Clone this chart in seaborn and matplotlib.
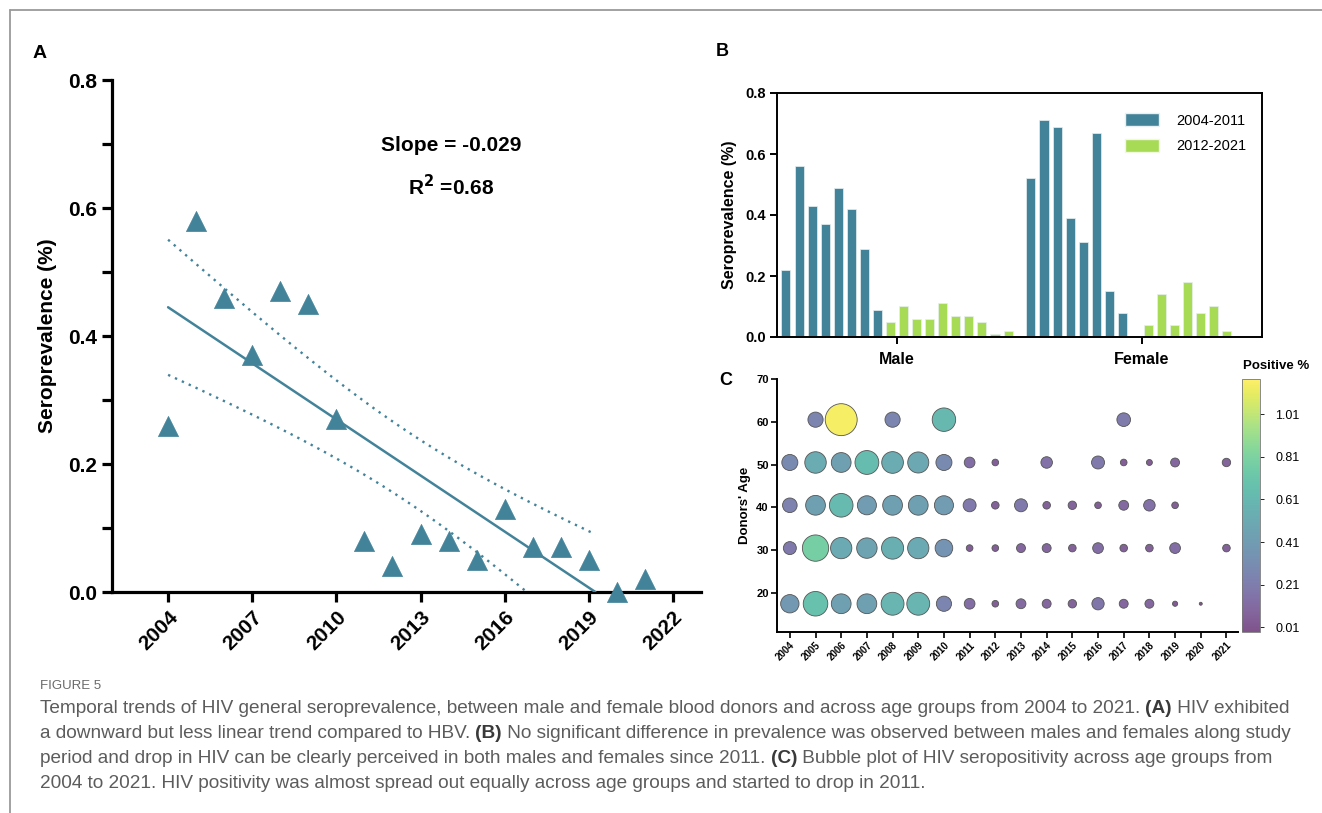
import numpy as np
import pandas as pd
import matplotlib
matplotlib.use("Agg")
import matplotlib.pyplot as plt
import seaborn as sns
from matplotlib.colors import ListedColormap, Normalize
from matplotlib.cm import ScalarMappable
from matplotlib.lines import Line2D
from matplotlib.patches import Patch
from matplotlib.ticker import MultipleLocator, FormatStrFormatter

# ---------------- data ----------------
years = list(range(2004, 2022))
# Panel A: general HIV seroprevalence (%)
overall = [0.26, 0.58, 0.46, 0.37, 0.47, 0.45, 0.27, 0.08, 0.04, 0.09,
           0.08, 0.05, 0.13, 0.07, 0.07, 0.05, 0.00, 0.02]
# Panel B: by sex, one bar per year 2004..2021
sexes = ["Male", "Female"]
male = [0.22, 0.56, 0.43, 0.37, 0.49, 0.42, 0.29, 0.09,
        0.05, 0.10, 0.06, 0.06, 0.11, 0.07, 0.07, 0.05, 0.01, 0.02]
female = [0.52, 0.71, 0.69, 0.39, 0.31, 0.67, 0.15, 0.08,
          0.00, 0.04, 0.14, 0.04, 0.18, 0.08, 0.10, 0.02, 0.00, 0.00]
period_labels = ["2004-2011", "2012-2021"]
# Panel C: positive % per age group (NaN = no bubble)
age_rows = [17.5, 30.5, 40.5, 50.5, 60.5]
nan = np.nan
pos_age17 = [0.38, 0.68, 0.44, 0.44, 0.59, 0.59, 0.26, 0.13, 0.05, 0.11,
             0.09, 0.08, 0.17, 0.09, 0.09, 0.03, 0.01, nan]
pos_age30 = [0.19, 0.78, 0.51, 0.47, 0.55, 0.51, 0.35, 0.05, 0.05, 0.09,
             0.09, 0.065, 0.13, 0.065, 0.065, 0.13, nan, 0.065]
pos_age40 = [0.24, 0.44, 0.63, 0.41, 0.44, 0.44, 0.41, 0.19, 0.065, 0.19,
             0.065, 0.08, 0.05, 0.11, 0.15, 0.05, nan, nan]
pos_age50 = [0.29, 0.52, 0.44, 0.64, 0.53, 0.50, 0.29, 0.13, 0.05, nan,
             0.15, nan, 0.19, 0.05, 0.04, 0.09, nan, 0.08]
pos_age60 = [nan, 0.26, 1.15, nan, 0.26, nan, 0.62, nan, nan, nan,
             nan, nan, nan, 0.21, nan, nan, nan, nan]
cbar_ticks = [0.01, 0.21, 0.41, 0.61, 0.81, 1.01]

# ---------------- style ----------------
sns.set_style("ticks")
plt.rcParams["font.family"] = ["Liberation Sans", "DejaVu Sans"]
for k in ["text.color", "axes.labelcolor", "xtick.color", "ytick.color", "axes.edgecolor"]:
    plt.rcParams[k] = "black"
BLUE = "#43839a"
GREEN = "#a7db55"
W, H = 1322, 813


def fx(px):
    return px / W


def fy(py):
    return 1 - py / H


fig = plt.figure(figsize=(W / 100, H / 100), dpi=100)
fig.patch.set_facecolor("white")

# frame lines (top + left)
fig.add_artist(Line2D([fx(10), 1], [fy(10), fy(10)], color="#9a9a9a", lw=1.3))
fig.add_artist(Line2D([fx(10), fx(10)], [fy(10), 0], color="#9a9a9a", lw=1.3))

# ---------------- Panel A ----------------
axA = fig.add_axes([fx(112), fy(592), fx(701) - fx(112), fy(80) - fy(592)])
dfA = pd.DataFrame({"year": years, "value": overall})
sns.scatterplot(data=dfA, x="year", y="value", marker="^", s=210, color=BLUE,
                edgecolor=BLUE, linewidth=0.5, ax=axA, zorder=4,
                clip_on=False, legend=False)
yr = np.array(years, dtype=float)
val = np.array(overall)
slope, intercept = np.polyfit(yr, val, 1)
n = len(yr)
xm = yr.mean()
sxx = ((yr - xm) ** 2).sum()
resid = val - (slope * yr + intercept)
s_err = np.sqrt((resid ** 2).sum() / (n - 2))
t_crit = 2.12
x_end = -intercept / slope
xs = np.linspace(yr[0], x_end, 400)
fit = slope * xs + intercept
half = t_crit * s_err * np.sqrt(1 / n + (xs - xm) ** 2 / sxx)
axA.plot(xs, fit, color=BLUE, lw=1.8, zorder=3)
axA.plot(xs, fit + half, color=BLUE, lw=1.7, ls=(0, (1, 2.2)), zorder=3)
lo = fit - half
lo = np.where(lo >= 0, lo, np.nan)
axA.plot(xs, lo, color=BLUE, lw=1.7, ls=(0, (1, 2.2)), zorder=3)

axA.set_xlim(2002, 2023)
axA.set_ylim(0, 0.8)
axA.set_xticks(range(2004, 2023, 3))
axA.yaxis.set_major_locator(MultipleLocator(0.2))
axA.yaxis.set_minor_locator(MultipleLocator(0.1))
axA.yaxis.set_major_formatter(FormatStrFormatter("%.1f"))
for s in ["top", "right"]:
    axA.spines[s].set_visible(False)
for s in ["left", "bottom"]:
    axA.spines[s].set_linewidth(2.3)
axA.tick_params(axis="both", which="major", width=2.3, length=7,
                labelsize=15, direction="out", color="black", pad=4)
axA.tick_params(axis="y", which="minor", width=2.3, length=7)
for lab in axA.get_xticklabels():
    lab.set_rotation(45)
    lab.set_ha("right")
    lab.set_rotation_mode("anchor")
    lab.set_fontweight("bold")
for lab in axA.get_yticklabels():
    lab.set_fontweight("bold")
axA.set_xlabel("")
axA.set_ylabel("Seroprevalence (%)", fontsize=15, fontweight="bold", labelpad=8)
axA.text(2014.1, 0.698, "Slope = -0.029", fontsize=15, fontweight="bold",
         ha="center", va="center")
axA.text(2014.1, 0.633, "R$^{\\mathbf{2}}$ =0.68", fontsize=15, fontweight="bold",
         ha="center", va="center")
fig.text(fx(40), fy(54), "A", fontsize=14, fontweight="bold", ha="center", va="center")

# ---------------- Panel B ----------------
axB = fig.add_axes([fx(777), fy(337), fx(1262) - fx(777), fy(93) - fy(337)])
recs = []
for sex, vals in zip(sexes, [male, female]):
    for y, v in zip(years, vals):
        recs.append({"sex": sex, "year": str(y), "value": v})
dfB = pd.DataFrame(recs)
pal = {str(y): (BLUE if y <= 2011 else GREEN) for y in years}
sns.barplot(data=dfB, x="sex", y="value", hue="year", order=sexes,
            hue_order=[str(y) for y in years], palette=pal, width=0.96,
            gap=0.31, errorbar=None, saturation=1, legend=False,
            edgecolor="#e8f0f2", linewidth=0.5, ax=axB)
axB.set_xlim(-0.49, 1.49)
axB.set_ylim(0, 0.8)
axB.yaxis.set_major_locator(MultipleLocator(0.2))
axB.yaxis.set_major_formatter(FormatStrFormatter("%.1f"))
for s in axB.spines.values():
    s.set_linewidth(1.4)
    s.set_color("black")
axB.tick_params(axis="both", width=1.4, length=5, labelsize=10.5, pad=3)
axB.tick_params(axis="x", labelsize=11.5, pad=6)
for lab in axB.get_xticklabels() + axB.get_yticklabels():
    lab.set_fontweight("bold")
axB.set_xlabel("")
axB.set_ylabel("Seroprevalence (%)", fontsize=11.5, fontweight="bold", labelpad=6)
handles = [Patch(facecolor=BLUE, edgecolor="#e8f0f2"),
           Patch(facecolor=GREEN, edgecolor="#f0f8e0")]
axB.legend(handles, period_labels, loc="upper right", frameon=False,
           fontsize=10.5, handlelength=2.3, handleheight=1.0,
           bbox_to_anchor=(0.995, 0.97), labelspacing=0.75, handletextpad=1.2)
fig.text(fx(722), fy(52), "B", fontsize=13, fontweight="bold", ha="center", va="center")

# ---------------- Panel C ----------------
axC = fig.add_axes([fx(777), fy(632), fx(1238) - fx(777), fy(379) - fy(632)])
cax = fig.add_axes([fx(1242), fy(632), fx(1260) - fx(1242), fy(379) - fy(632)])
base = plt.get_cmap("viridis")(np.linspace(0, 1, 256))
base[:, :3] = 0.68 * base[:, :3] + 0.32
cmap = ListedColormap(base)
norm = Normalize(-0.012, 1.175)
recsC = []
for age, row in zip(age_rows, [pos_age17, pos_age30, pos_age40, pos_age50, pos_age60]):
    for y, v in zip(years, row):
        if not np.isnan(v):
            recsC.append({"year": y, "age": age, "pos": v})
dfC = pd.DataFrame(recsC)
sns.scatterplot(data=dfC, x="year", y="age", hue="pos", size="pos",
                palette=cmap, hue_norm=norm, sizes=(0, 1.2 * 460),
                size_norm=(0, 1.2), edgecolor="#555555", linewidth=0.6,
                legend=False, ax=axC, zorder=3)
axC.set_xlim(2003.5, 2021.45)
axC.set_ylim(10.9, 70)
axC.set_xticks(years)
axC.set_yticks(range(20, 71, 10))
for s in ["top", "right"]:
    axC.spines[s].set_visible(False)
for s in ["left", "bottom"]:
    axC.spines[s].set_linewidth(1.4)
    axC.spines[s].set_color("black")
axC.tick_params(axis="both", width=1.2, length=4, pad=2)
axC.tick_params(axis="y", labelsize=8)
axC.tick_params(axis="x", labelsize=7)
for lab in axC.get_xticklabels():
    lab.set_rotation(45)
    lab.set_ha("right")
    lab.set_rotation_mode("anchor")
    lab.set_fontweight("bold")
for lab in axC.get_yticklabels():
    lab.set_fontweight("bold")
axC.set_xlabel("")
axC.set_ylabel("Donors' Age", fontsize=9.5, fontweight="bold", labelpad=4)
cb = fig.colorbar(ScalarMappable(norm=norm, cmap=cmap), cax=cax, ticks=cbar_ticks)
cb.ax.set_yticklabels([f"{t:.2f}" for t in cbar_ticks])
cb.outline.set_linewidth(0.6)
cb.outline.set_edgecolor("#777777")
cax.tick_params(labelsize=9, length=3, width=0.6, pad=8)
fig.text(fx(1243), fy(366), "Positive %", fontsize=9.5, fontweight="bold",
         ha="left", va="center")
fig.text(fx(726), fy(380), "C", fontsize=13, fontweight="bold", ha="center", va="center")

# ---------------- caption ----------------
cap_font = ["Liberation Sans Narrow", "Liberation Sans", "DejaVu Sans"]
cap_lines = [
    [("Temporal trends of HIV general seroprevalence, between male and female blood donors and across age groups from 2004 to 2021. ", False),
     ("(A)", True), (" HIV exhibited", False)],
    [("a downward but less linear trend compared to HBV. ", False), ("(B)", True),
     (" No significant difference in prevalence was observed between males and females along study", False)],
    [("period and drop in HIV can be clearly perceived in both males and females since 2011. ", False),
     ("(C)", True), (" Bubble plot of HIV seropositivity across age groups from", False)],
    [("2004 to 2021. HIV positivity was almost spread out equally across age groups and started to drop in 2011.", False)],
]
renderer = fig.canvas.get_renderer()


def seg_width(txt, size, bold):
    kw = dict(fontsize=size, family=cap_font, fontweight="bold" if bold else "normal")
    t1 = fig.text(0, 0, "|" + txt + "|", **kw)
    t2 = fig.text(0, 0, "||", **kw)
    w = t1.get_window_extent(renderer).width - t2.get_window_extent(renderer).width
    t1.remove()
    t2.remove()
    return w


ref_w = sum(seg_width(t, 10, b) for t, b in cap_lines[0])
cap_size = 10 * 1258 / ref_w
line_y = [708, 733, 758, 783]
for ly, segs in zip(line_y, cap_lines):
    x = 40
    for txt, bold in segs:
        fig.text(fx(x), fy(ly), txt, fontsize=cap_size, family=cap_font,
                 fontweight="bold" if bold else "normal",
                 color="#3a3a3a" if bold else "#5c5c5c", ha="left", va="center")
        x += seg_width(txt, cap_size, bold)
fig.text(fx(40), fy(686), "FIGURE 5", fontsize=9.5, family=cap_font,
         color="#6a6a6a", ha="left", va="center")

fig.savefig("out.png", dpi=100, facecolor="white")
